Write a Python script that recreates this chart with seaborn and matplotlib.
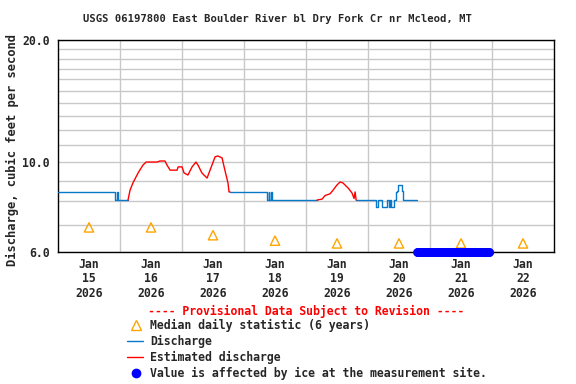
import numpy as np
import pandas as pd
import matplotlib
matplotlib.use("Agg")
import matplotlib.pyplot as plt
from matplotlib.lines import Line2D
import seaborn as sns

title = "USGS 06197800 East Boulder River bl Dry Fork Cr nr Mcleod, MT"
day_labels = ["Jan\n15\n2026", "Jan\n16\n2026", "Jan\n17\n2026", "Jan\n18\n2026",
              "Jan\n19\n2026", "Jan\n20\n2026", "Jan\n21\n2026", "Jan\n22\n2026"]

# times are hours after Jan 15 2026 00:00
q1_hours = [0, 22.1, 22.1, 22.8, 22.8, 23.2, 23.2, 27.1]
q1_cfs = [8.44, 8.44, 8.06, 8.06, 8.44, 8.44, 8.06, 8.06]

est1_hours = [27.1, 27.9, 29.0, 31.0, 32.9, 34.1, 38.3, 39.5, 41.4, 42.2, 43.4, 46.1,
              46.5, 48.0, 48.8, 50.3, 51.9, 53.4, 54.2, 55.7, 57.7, 59.6, 60.8, 61.9,
              63.5, 64.6, 65.8, 66.2, 66.6]
est1_cfs = [8.06, 8.53, 8.88, 9.4, 9.83, 10.0, 10.0, 10.06, 10.06, 9.83, 9.55, 9.55,
            9.73, 9.73, 9.4, 9.29, 9.73, 10.0, 9.83, 9.4, 9.13, 9.83, 10.3, 10.35,
            10.24, 9.55, 8.88, 8.44, 8.44]

q2_hours = [66.6, 80.9, 80.9, 81.5, 81.5, 81.8, 81.8, 82.4, 82.4, 82.7, 82.7, 100.3]
q2_cfs = [8.44, 8.44, 8.06, 8.06, 8.44, 8.44, 8.06, 8.06, 8.44, 8.44, 8.06, 8.06]

est2_hours = [100.3, 102.2, 103.4, 105.3, 106.5, 108.0, 109.2, 110.3, 112.3, 113.8,
              114.6, 115.0, 115.4]
est2_cfs = [8.06, 8.1, 8.27, 8.35, 8.53, 8.78, 8.93, 8.88, 8.63, 8.39, 8.13, 8.44, 8.06]

q3_hours = [115.4, 123.1, 123.1, 124.0, 124.0, 125.3, 125.3, 127.5, 127.5, 128.1, 128.1,
            128.5, 128.5, 128.9, 128.9, 130.2, 130.2, 130.7, 130.7, 131.2, 131.2, 131.7,
            131.7, 133.2, 133.2, 133.7, 133.7, 138.8]
q3_cfs = [8.06, 8.06, 7.75, 7.75, 8.06, 8.06, 7.75, 7.75, 8.06, 8.06, 7.75,
          7.75, 8.06, 8.06, 7.75, 7.75, 8.06, 8.06, 8.44, 8.44, 8.5, 8.5,
          8.8, 8.8, 8.5, 8.5, 8.06, 8.06]

median_hours = [12, 36, 60, 84, 108, 132, 156, 180]
median_cfs = [6.9, 6.9, 6.6, 6.4, 6.3, 6.3, 6.3, 6.3]

ice_start, ice_end = 139.0, 167.0
ice_cfs = 6.0

blue = "#0a78c8"
orange = "#ffa500"

rows = []
for name, hrs, vals, kind in [("q1", q1_hours, q1_cfs, "Discharge"),
                              ("e1", est1_hours, est1_cfs, "Estimated"),
                              ("q2", q2_hours, q2_cfs, "Discharge"),
                              ("e2", est2_hours, est2_cfs, "Estimated"),
                              ("q3", q3_hours, q3_cfs, "Discharge")]:
    for h, v in zip(hrs, vals):
        rows.append({"seg": name, "hours": h, "cfs": v, "kind": kind})
flow = pd.DataFrame(rows)

ice_hours = np.arange(ice_start, ice_end + 0.01, 0.25)
ice = pd.DataFrame({"hours": ice_hours, "cfs": ice_cfs})
med = pd.DataFrame({"hours": median_hours, "cfs": median_cfs})

sns.set_style("white")
plt.rcParams["font.family"] = ["DejaVu Sans Mono"]
plt.rcParams["font.weight"] = "bold"

fig = plt.figure(figsize=(5.76, 3.84), dpi=100)
ax = fig.add_axes([58 / 576, 1 - 252 / 384, 496 / 576, 212 / 384])

sns.lineplot(data=flow, x="hours", y="cfs", hue="kind", units="seg", estimator=None,
             sort=False, palette={"Discharge": blue, "Estimated": "red"},
             linewidth=1, legend=False, ax=ax, zorder=3)
sns.scatterplot(data=med, x="hours", y="cfs", marker="^", s=45, facecolor="none",
                edgecolor=orange, linewidth=1, ax=ax, zorder=4)
sns.scatterplot(data=ice, x="hours", y="cfs", color="#0000ff", s=40, linewidth=0,
                ax=ax, zorder=5, clip_on=False)

ax.set_yscale("log")
ax.set_ylim(6, 20)
ax.set_xlim(0, 192)
ax.set_yticks([6, 10, 20])
ax.set_yticklabels(["6.0", "10.0", "20.0"])
ax.set_yticks([7, 8, 9, 11, 12, 13, 14, 15, 16, 17, 18, 19], minor=True)
ax.set_xticks(median_hours)
ax.set_xticklabels(day_labels, linespacing=1.15)
ax.set_xticks(np.arange(24, 192, 24), minor=True)
ax.yaxis.set_minor_formatter(matplotlib.ticker.NullFormatter())
ax.tick_params(which="both", length=0, labelsize=8.3)
ax.tick_params(axis="x", pad=4)
ax.tick_params(axis="y", pad=6)
ax.grid(which="minor", axis="x", color="#c8c8c8", linewidth=1)
ax.grid(which="both", axis="y", color="#c8c8c8", linewidth=1)
ax.set_axisbelow(True)
for s in ax.spines.values():
    s.set_color("black")
    s.set_linewidth(1)
ax.set_xlabel("")
ax.set_ylabel("")

fig.text(277 / 576, 1 - 19 / 384, title, ha="center", va="center", fontsize=7.6,
         fontweight="bold")
fig.text(12 / 576, 1 - 150 / 384, "Discharge, cubic feet per second", rotation=90,
         ha="center", va="center", fontsize=8.7, fontweight="bold")
fig.text(306 / 576, 1 - 311 / 384, "---- Provisional Data Subject to Revision ----",
         ha="center", va="center", fontsize=8.3, fontweight="bold", color="red")

# legend rows placed by hand (pixel rows of the reference)
legend_labels = ["Median daily statistic (6 years)", "Discharge", "Estimated discharge",
                 "Value is affected by ice at the measurement site."]
legend_rows = [325, 341, 357, 373]


def fx(px):
    return px / 576


def fy(py):
    return 1 - py / 384


fig.add_artist(Line2D([fx(136)], [fy(legend_rows[0])], marker="^", markersize=7,
                      markerfacecolor="none", markeredgecolor=orange, linestyle="none",
                      transform=fig.transFigure))
fig.add_artist(Line2D([fx(127), fx(143)], [fy(legend_rows[1])] * 2, color=blue,
                      linewidth=1, transform=fig.transFigure))
fig.add_artist(Line2D([fx(127), fx(143)], [fy(legend_rows[2])] * 2, color="red",
                      linewidth=1, transform=fig.transFigure))
fig.add_artist(Line2D([fx(136)], [fy(legend_rows[3])], marker="o", markersize=6,
                      color="#0000ff", linestyle="none", transform=fig.transFigure))
for lab, row in zip(legend_labels, legend_rows):
    fig.text(fx(150), fy(row), lab, ha="left", va="center", fontsize=8.3,
             fontweight="bold")

fig.savefig("out.png", dpi=100)
